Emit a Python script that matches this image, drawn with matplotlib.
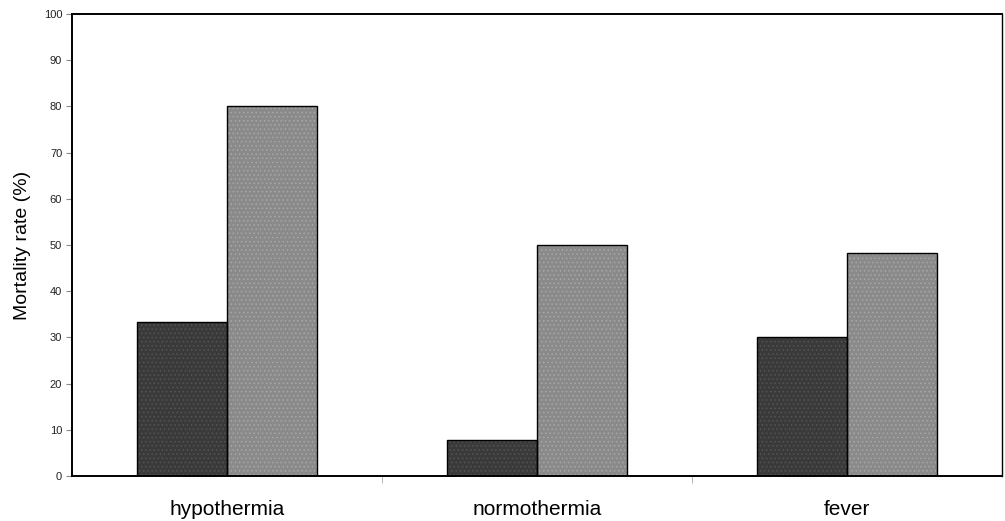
import matplotlib
matplotlib.use('Agg')
import matplotlib.pyplot as plt
import numpy as np

plt.rcParams['font.family'] = ['Liberation Sans', 'DejaVu Sans']
plt.rcParams['hatch.linewidth'] = 0.6

categories = ['hypothermia', 'normothermia', 'fever']
series_a = [33.3, 7.7, 30.0]
series_b = [80.0, 50.0, 48.3]

fig = plt.figure(figsize=(10.05, 5.21), dpi=100)
ax = fig.add_axes([0.0716, 0.0864, 0.9255, 0.8867])

x = np.arange(len(categories))
w = 0.29
# textured fill, then the black outline on top
ax.bar(x - w/2, series_a, w, color='#3a3a3a', edgecolor='#555555', linewidth=0, hatch='....')
ax.bar(x + w/2, series_b, w, color='#8a8a8a', edgecolor='#a8a8a8', linewidth=0, hatch='....')
ax.bar(x - w/2, series_a, w, fill=False, edgecolor='black', linewidth=1.0)
ax.bar(x + w/2, series_b, w, fill=False, edgecolor='black', linewidth=1.0)

ax.set_xlim(-0.5, 2.5)
ax.set_ylim(0, 100)
ax.set_yticks(range(0, 101, 10))
ax.tick_params(axis='y', labelsize=8, length=4, color='#888888', pad=3, labelcolor='#222222')
ax.set_xticks(x)
ax.set_xticklabels(categories, fontsize=15)
ax.tick_params(axis='x', length=0, pad=17)
ax.set_xticks([0.5, 1.5], minor=True)
ax.tick_params(axis='x', which='minor', length=5, color='#aaaaaa')
ax.set_ylabel('Mortality rate (%)', fontsize=14, labelpad=9)

for s in ['left', 'bottom', 'top']:
    ax.spines[s].set_linewidth(1.4)
    ax.spines[s].set_color('black')
ax.spines['right'].set_linewidth(1.0)

fig.savefig('out.png', dpi=100, facecolor='white')
